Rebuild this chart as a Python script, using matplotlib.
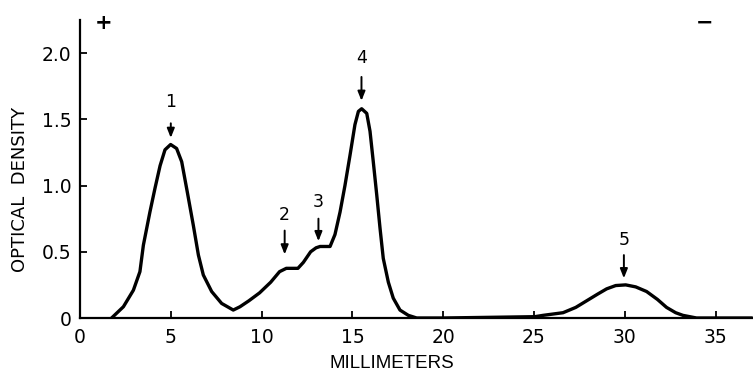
import matplotlib
matplotlib.use("Agg")
import matplotlib.pyplot as plt

plt.rcParams['font.family'] = ['DejaVu Sans']

# Densitometer trace (millimeters vs optical density)
x_mm = [1.74, 2.39, 2.94, 3.30, 3.49, 3.85, 4.13, 4.41, 4.68, 4.99, 5.32, 5.60, 5.91,
        6.24, 6.52, 6.79, 7.25, 7.80, 8.44, 8.81, 9.3, 9.89, 10.5, 10.99, 11.36, 12.0,
        12.3, 12.7, 13.0, 13.22, 13.77, 14.04, 14.32, 14.59, 14.87, 15.14, 15.33, 15.51,
        15.79, 15.97, 16.15, 16.34, 16.52, 16.70, 16.98, 17.25, 17.62, 18.08, 18.54,
        20.0, 25.05, 25.5, 26.6, 27.3, 27.9, 28.5, 29.0, 29.5, 30.05, 30.6, 31.2, 31.8,
        32.3, 32.8, 33.2, 33.95, 37.0]
od = [0.0, 0.085, 0.21, 0.35, 0.55, 0.80, 0.98, 1.15, 1.27, 1.31, 1.28, 1.18, 0.95,
      0.70, 0.475, 0.325, 0.20, 0.11, 0.06, 0.085, 0.13, 0.19, 0.27, 0.35, 0.375, 0.375,
      0.42, 0.50, 0.53, 0.54, 0.54, 0.63, 0.80, 1.00, 1.23, 1.46, 1.56, 1.58,
      1.545, 1.41, 1.18, 0.93, 0.68, 0.45, 0.27, 0.15, 0.06, 0.02, 0.0,
      0.0, 0.01, 0.02, 0.04, 0.08, 0.13, 0.18, 0.22, 0.245, 0.25, 0.235, 0.20, 0.14,
      0.08, 0.04, 0.02, 0.0, 0.0]

# Peak markers: label, x position, arrow tail, arrow tip, label y
peak_labels = ["1", "2", "3", "4", "5"]
peak_x = [5.0, 11.27, 13.13, 15.5, 29.95]
arrow_tail = [1.47, 0.66, 0.75, 1.82, 0.475]
arrow_tip = [1.36, 0.48, 0.58, 1.64, 0.30]
label_y = [1.63, 0.78, 0.875, 1.96, 0.59]

x_ticks = [0, 5, 10, 15, 20, 25, 30, 35]
y_ticks = [0, 0.5, 1.0, 1.5, 2.0]
y_tick_labels = ["0", "0.5", "1.0", "1.5", "2.0"]

fig = plt.figure(figsize=(7.53, 3.71), dpi=100)
ax = fig.add_axes([80 / 753, 1 - 318 / 371, (753 - 80) / 753, (318 - 20) / 371])

ax.plot(x_mm, od, color='black', lw=2.4, solid_capstyle='round', solid_joinstyle='round')

for lab, px, t0, t1, ly in zip(peak_labels, peak_x, arrow_tail, arrow_tip, label_y):
    ax.annotate('', xy=(px, t1), xytext=(px, t0),
                arrowprops=dict(arrowstyle='-|>,head_length=0.55,head_width=0.22',
                                color='black', lw=1.4, shrinkA=0, shrinkB=0))
    ax.text(px, ly, lab, ha='center', va='center', fontsize=12.5)

ax.text(1.27, 2.23, '+', ha='center', va='center', fontsize=15, fontweight='bold')
ax.text(34.4, 2.23, '\u2212', ha='center', va='center', fontsize=15, fontweight='bold')

ax.set_xlim(0, 37.06)
ax.set_ylim(0, 2.25)
ax.set_xticks(x_ticks)
ax.set_yticks(y_ticks)
ax.set_yticklabels(y_tick_labels)
ax.tick_params(direction='in', length=5, width=1.3, labelsize=13.5, colors='black')
ax.tick_params(axis='x', pad=7)
ax.tick_params(axis='y', pad=6)
for s in ['top', 'right']:
    ax.spines[s].set_visible(False)
for s in ['left', 'bottom']:
    ax.spines[s].set_linewidth(1.6)

fig.text(20 / 753, 1 - 189 / 371, 'OPTICAL  DENSITY', rotation=90, ha='center', va='center',
         fontsize=13)
fig.text(392 / 753, 1 - 363 / 371, 'MILLIMETERS', ha='center', va='center', fontsize=13.5,
         family=['Liberation Sans', 'DejaVu Sans'])

fig.savefig('out.png', dpi=100)
